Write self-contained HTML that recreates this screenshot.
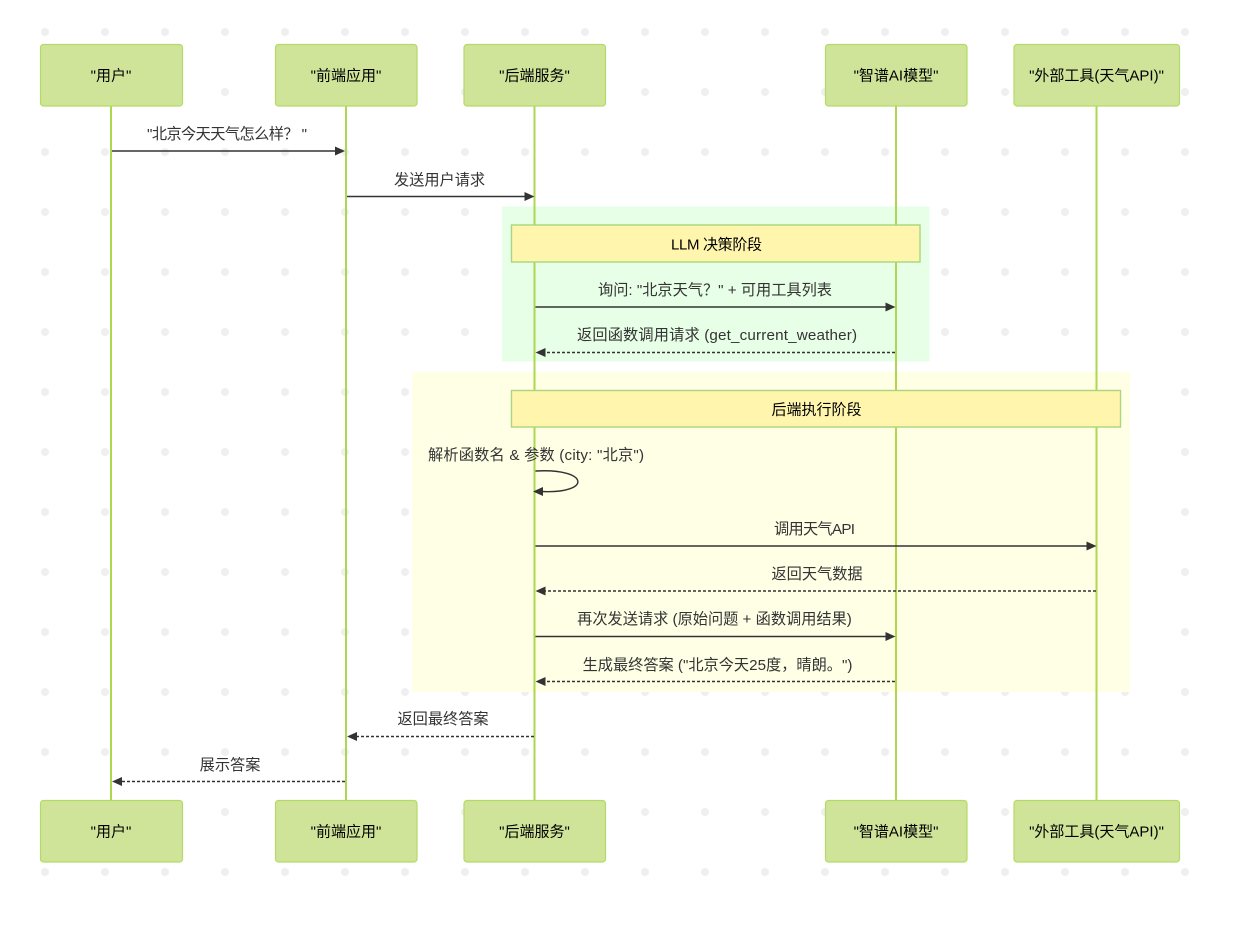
<!DOCTYPE html>
<html>
<head>
<meta charset="utf-8">
<style>
html,body{margin:0;padding:0;background:#fff;}
svg{display:block;}
text{font-family:"Liberation Sans","Noto Sans CJK SC",sans-serif;text-anchor:middle;}
.m{font-size:15.2px;fill:#333;}
.a{font-size:15px;fill:#000;}
.b{fill:#cfe499;stroke:#b3da66;stroke-width:1.2;}
.l{stroke:#acd74f;stroke-width:2;}
.s{stroke:#333;stroke-width:1.4;fill:none;}
.d{stroke:#333;stroke-width:1.4;fill:none;stroke-dasharray:3 2;}
.n{fill:#fff5ad;stroke:#a9d67c;stroke-width:1.4;}
.h{fill:#333;}
</style>
</head>
<body>
<svg width="1238" height="928" viewBox="0 0 1238 928" xmlns="http://www.w3.org/2000/svg">
<defs>
<pattern id="dots" x="15" y="2" width="60" height="60" patternUnits="userSpaceOnUse">
<circle cx="30" cy="30" r="4" fill="#efefef"/>
</pattern>
</defs>
<rect x="40" y="26" width="1152" height="852" fill="url(#dots)"/>

<rect x="502" y="206.500" width="427.500" height="155" fill="#e6ffe6"/>
<rect x="412" y="372" width="718" height="320" fill="#ffffe6"/>

<line class="l" x1="111" y1="106" x2="111" y2="800"/>
<line class="l" x1="346" y1="106" x2="346" y2="800"/>
<line class="l" x1="534.500" y1="106" x2="534.500" y2="800"/>
<line class="l" x1="896" y1="106" x2="896" y2="800"/>
<line class="l" x1="1096.500" y1="106" x2="1096.500" y2="800"/>

<rect class="b" x="40.500" y="44.500" width="142" height="61.500" rx="3"/>
<rect class="b" x="275.500" y="44.500" width="141.500" height="61.500" rx="3"/>
<rect class="b" x="464" y="44.500" width="141.500" height="61.500" rx="3"/>
<rect class="b" x="825.500" y="44.500" width="141.500" height="61.500" rx="3"/>
<rect class="b" x="1014" y="44.500" width="165.500" height="61.500" rx="3"/>
<text class="a" x="111" y="80.500">"用户"</text>
<text class="a" x="346" y="80.500">"前端应用"</text>
<text class="a" x="534.500" y="80.500">"后端服务"</text>
<text class="a" x="896" y="80.500">"智谱AI模型"</text>
<text class="a" x="1096.500" y="80.500">"外部工具(天气API)"</text>

<rect class="b" x="40.500" y="800.500" width="142" height="61.500" rx="3"/>
<rect class="b" x="275.500" y="800.500" width="141.500" height="61.500" rx="3"/>
<rect class="b" x="464" y="800.500" width="141.500" height="61.500" rx="3"/>
<rect class="b" x="825.500" y="800.500" width="141.500" height="61.500" rx="3"/>
<rect class="b" x="1014" y="800.500" width="165.500" height="61.500" rx="3"/>
<text class="a" x="111" y="836.500">"用户"</text>
<text class="a" x="346" y="836.500">"前端应用"</text>
<text class="a" x="534.500" y="836.500">"后端服务"</text>
<text class="a" x="896" y="836.500">"智谱AI模型"</text>
<text class="a" x="1096.500" y="836.500">"外部工具(天气API)"</text>

<rect class="n" x="511.500" y="225" width="408.500" height="37"/>
<rect class="n" x="511.500" y="390.500" width="609" height="36.500"/>
<text class="a" x="716.500" y="249.500" textLength="91">LLM 决策阶段</text>
<text class="a" x="816.500" y="414.500">后端执行阶段</text>

<text class="m" x="227" y="139" textLength="160">"北京今天天气怎么样？ "</text>
<line class="s" x1="112" y1="151" x2="337" y2="151"/>
<polygon class="h" points="335,146.500 345,151 335,155.500"/>

<text class="m" x="439.500" y="185">发送用户请求</text>
<line class="s" x1="347" y1="196.500" x2="526" y2="196.500"/>
<polygon class="h" points="524.500,192 534.500,196.500 524.500,201"/>

<text class="m" x="715" y="295">询问: "北京天气？" + 可用工具列表</text>
<line class="s" x1="535.500" y1="307" x2="887" y2="307"/>
<polygon class="h" points="885.500,302.500 895.500,307 885.500,311.500"/>

<text class="m" x="717" y="340" textLength="280">返回函数调用请求 (get_current_weather)</text>
<line class="d" x1="895" y1="352.500" x2="544" y2="352.500"/>
<polygon class="h" points="545.500,348 535.500,352.500 545.500,357"/>

<text class="m" x="536" y="460" textLength="216">解析函数名 &amp; 参数 (city: "北京")</text>
<path class="s" d="M535.500,471 C590,468 592,494 541,491.500"/>
<polygon class="h" points="543,487 533,491.500 543,496"/>

<text class="m" x="814.500" y="534" textLength="81">调用天气API</text>
<line class="s" x1="535.500" y1="546" x2="1088" y2="546"/>
<polygon class="h" points="1086.500,541.500 1096.500,546 1086.500,550.500"/>

<text class="m" x="817" y="579">返回天气数据</text>
<line class="d" x1="1096" y1="591" x2="544" y2="591"/>
<polygon class="h" points="545.500,586.500 535.500,591 545.500,595.500"/>

<text class="m" x="714.500" y="624">再次发送请求 (原始问题 + 函数调用结果)</text>
<line class="s" x1="535.500" y1="636.500" x2="887" y2="636.500"/>
<polygon class="h" points="885.500,632 895.500,636.500 885.500,641"/>

<text class="m" x="717.500" y="670">生成最终答案 ("北京今天25度，晴朗。")</text>
<line class="d" x1="895" y1="681.500" x2="544" y2="681.500"/>
<polygon class="h" points="545.500,677 535.500,681.500 545.500,686"/>

<text class="m" x="443" y="724">返回最终答案</text>
<line class="d" x1="534" y1="736.500" x2="356" y2="736.500"/>
<polygon class="h" points="357,732 347,736.500 357,741"/>

<text class="m" x="230" y="770">展示答案</text>
<line class="d" x1="345" y1="781.500" x2="121" y2="781.500"/>
<polygon class="h" points="122,777 112,781.500 122,786"/>
</svg>
</body>
</html>
